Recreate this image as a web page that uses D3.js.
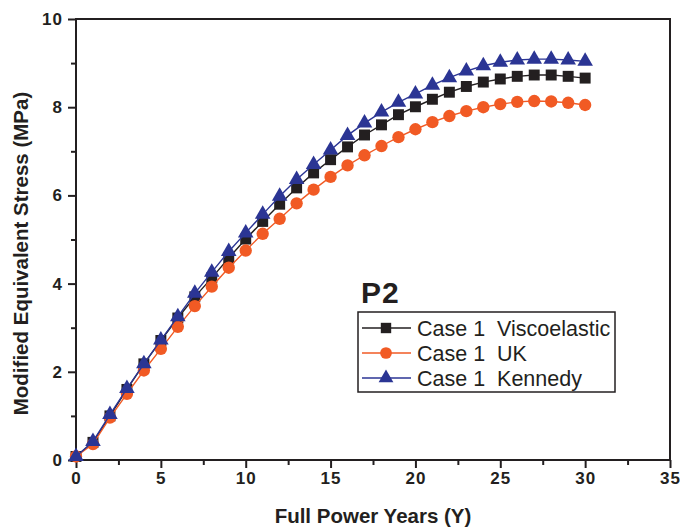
<!DOCTYPE html>
<html>
<head>
<meta charset="utf-8">
<script src="https://cdn.jsdelivr.net/npm/d3@7"></script>
<style>
  body { margin: 0; background: #fff; }
  svg { font-family: "Liberation Sans", Arial, sans-serif; }
</style>
</head>
<body>
<script>
// data
var years = d3.range(0, 31);
var visco = [0.08, 0.40, 1.00, 1.60, 2.18, 2.71, 3.22, 3.70, 4.13, 4.58, 5.01, 5.41, 5.80, 6.17, 6.51, 6.81,
             7.10, 7.37, 7.60, 7.83, 8.01, 8.18, 8.34, 8.47, 8.57, 8.64, 8.70, 8.73, 8.73, 8.70, 8.66];
var uk = [0.08, 0.36, 0.96, 1.50, 2.03, 2.52, 3.02, 3.49, 3.93, 4.36, 4.75, 5.13, 5.47, 5.82, 6.13, 6.42,
          6.68, 6.91, 7.12, 7.32, 7.50, 7.66, 7.80, 7.91, 8.00, 8.07, 8.12, 8.14, 8.13, 8.10, 8.05];
var kennedy = [0.08, 0.42, 1.03, 1.62, 2.18, 2.72, 3.25, 3.78, 4.26, 4.73, 5.15, 5.57, 5.98, 6.36, 6.70, 7.03,
               7.36, 7.64, 7.89, 8.11, 8.30, 8.50, 8.67, 8.82, 8.94, 9.02, 9.07, 9.09, 9.09, 9.07, 9.04];
var seriesNames = ["Case 1  Viscoelastic", "Case 1  UK", "Case 1  Kennedy"];
var xTicks = [0, 5, 10, 15, 20, 25, 30, 35];
var yTicks = [0, 2, 4, 6, 8, 10];

var colors = ["#231f20", "#f15a24", "#2b3594"];
var symbols = [d3.symbolSquare, d3.symbolCircle, d3.symbolTriangle];
var symSizes = [120, 120, 105];

var margin = {top: 19, right: 10, bottom: 68, left: 76},
    width = 680 - margin.left - margin.right,
    height = 528 - margin.top - margin.bottom;

var x = d3.scaleLinear().domain([0, 35]).range([0, width]);
var y = d3.scaleLinear().domain([0, 10]).range([height, 0]);

var svg = d3.select("body").append("svg")
    .attr("width", 680)
    .attr("height", 528)
  .append("g")
    .attr("transform", "translate(" + margin.left + "," + margin.top + ")");

function styleTicks(g) {
  g.select(".domain").remove();
  g.selectAll("line").attr("stroke-width", 2).attr("stroke", "#231f20");
  g.selectAll("text")
      .attr("font-size", 17)
      .attr("font-weight", "bold")
      .attr("letter-spacing", 1)
      .attr("fill", "#231f20");
}

// minor ticks
svg.append("g")
    .attr("transform", "translate(0," + height + ")")
    .call(d3.axisBottom(x).tickValues(d3.range(2.5, 35, 5)).tickSize(5).tickFormat(""))
    .call(styleTicks);
svg.append("g")
    .call(d3.axisLeft(y).tickValues(d3.range(1, 10, 2)).tickSize(5).tickFormat(""))
    .call(styleTicks);

// major axes
svg.append("g")
    .attr("transform", "translate(0," + height + ")")
    .call(d3.axisBottom(x).tickValues(xTicks).tickSize(8).tickPadding(4).tickSizeOuter(0))
    .call(styleTicks);
svg.append("g")
    .call(d3.axisLeft(y).tickValues(yTicks).tickSize(8).tickPadding(5).tickSizeOuter(0))
    .call(styleTicks);

// frame
svg.append("rect")
    .attr("width", width)
    .attr("height", height)
    .attr("fill", "none")
    .attr("stroke", "#231f20")
    .attr("stroke-width", 2);

var allSeries = [visco, uk, kennedy];
var line = d3.line()
    .x(function(d, i) { return x(years[i]); })
    .y(function(d) { return y(d); });

allSeries.forEach(function(vals, s) {
  svg.append("path")
      .datum(vals)
      .attr("fill", "none")
      .attr("stroke", colors[s])
      .attr("stroke-width", 1.4)
      .attr("d", line);
  svg.selectAll(".m" + s)
      .data(vals)
    .enter().append("path")
      .attr("class", "m" + s)
      .attr("transform", function(d, i) { return "translate(" + x(years[i]) + "," + y(d) + ")"; })
      .attr("d", d3.symbol().type(symbols[s]).size(symSizes[s]))
      .attr("fill", colors[s]);
});

// axis titles
svg.append("text")
    .attr("x", width / 2)
    .attr("y", height + 63)
    .attr("text-anchor", "middle")
    .attr("font-size", 20.5)
    .attr("font-weight", "bold")
    .attr("fill", "#231f20")
    .text("Full Power Years (Y)");
svg.append("text")
    .attr("transform", "translate(" + (-48) + "," + (height / 2 + 14) + ") rotate(-90)")
    .attr("text-anchor", "middle")
    .attr("font-size", 20.5)
    .attr("font-weight", "bold")
    .attr("fill", "#231f20")
    .text("Modified Equivalent Stress (MPa)");

// P2 label
svg.append("text")
    .attr("x", 285)
    .attr("y", 284)
    .attr("font-size", 30)
    .attr("font-weight", "bold")
    .attr("letter-spacing", 1)
    .attr("fill", "#231f20")
    .text("P2");

// legend
var lg = svg.append("g").attr("transform", "translate(282,293)");
lg.append("rect")
    .attr("width", 257)
    .attr("height", 80)
    .attr("fill", "#fff")
    .attr("stroke", "#231f20")
    .attr("stroke-width", 1.5);
seriesNames.forEach(function(name, s) {
  var row = lg.append("g").attr("transform", "translate(0," + (16 + s * 25) + ")");
  row.append("line")
      .attr("x1", 4).attr("x2", 53)
      .attr("stroke", colors[s])
      .attr("stroke-width", 1.4);
  row.append("path")
      .attr("transform", "translate(28,0)")
      .attr("d", d3.symbol().type(symbols[s]).size(symSizes[s] * 0.9))
      .attr("fill", colors[s]);
  row.append("text")
      .attr("x", 59)
      .attr("dy", "0.36em")
      .attr("font-size", 21.5)
      .attr("fill", "#231f20")
      .style("white-space", "pre")
      .text(name);
});
</script>
</body>
</html>
